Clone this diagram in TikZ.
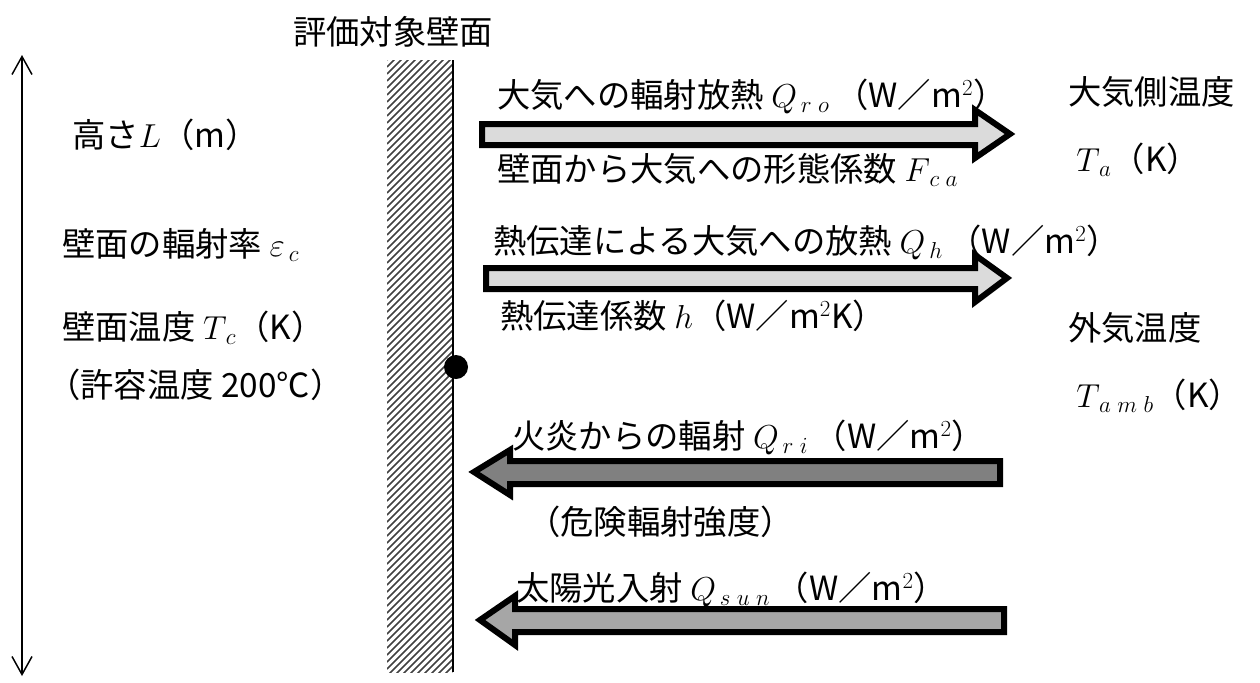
\documentclass[tikz,border=0pt]{standalone}
\usepackage{fontspec}
\setmainfont{Noto Sans CJK JP}
\usetikzlibrary{arrows.meta}

\begin{document}
\begin{tikzpicture}[x=0.75pt,y=-0.75pt,>={Straight Barb[length=13.5pt,width=15pt]},
  lbl/.style={anchor=west,inner sep=0pt,font=\fontsize{25}{30}\selectfont},
  blockarrow/.style={draw=black,line width=4.5pt,line join=miter,miter limit=10},
  hatch/.style={line width=1.1pt,black!75}]
\useasboundingbox (0,0) rectangle (1260,682);
% wall with hatching
\begin{scope}
\clip (387,60) rectangle (453,672);
\foreach \k in {0,7,...,742} \draw[hatch] (387,60+\k) -- ++(66,-66);
\end{scope}
\coordinate (wtop) at (453,60); \coordinate (wbot) at (453,672);
\draw[line width=2.2pt] (wtop) -- (wbot);
\node[circle,fill=black,inner sep=0pt,minimum size=18pt] (pt) at (456,367) {};
\node[lbl,anchor=center] (title) at (393,32) {評価対象壁面};
% height of the wall
\coordinate (htop) at (22,55); \coordinate (hbot) at (22,676);
\draw[<->,line width=1.1pt] (htop) -- (hbot);
\node[lbl] (hL) at (72,135) {高さ$L$（m）};
\node[lbl] (eps) at (62,245) {壁面の輻射率 $\varepsilon_{\,c}$};
\node[lbl] (Tc) at (62,328) {壁面温度 $T_{\,c}$（K）};
\node[lbl] (allow) at (47,385) {（許容温度 200℃）};
% outgoing heat
\draw[blockarrow,fill=black!14] (482,124) -- (975,124) -- (975,110) -- (1010,134) -- (975,158) -- (975,145) -- (482,145) -- cycle;
\node[lbl] (Qro) at (497,96) {大気への輻射放熱 $Q_{\,r\;o}$\,（W／m$^{2}$）};
\node[lbl] (Fca) at (497,170) {壁面から大気への形態係数 $F_{\,c\;a}$};
\draw[blockarrow,fill=black!14] (486,268) -- (975,268) -- (975,255) -- (1007,278) -- (975,302) -- (975,289) -- (486,289) -- cycle;
\node[lbl] (Qh) at (493,242) {熱伝達による大気への放熱 $Q_{\,h}$\,（W／m$^{2}$）};
\node[lbl] (hc) at (500,316) {熱伝達係数 $h$（W／m$^{2}$K）};
% ambient side
\node[lbl] (Ta0) at (1068,92) {大気側温度};
\node[lbl] (Ta) at (1076,160) {$T_{\,a}$（K）};
\node[lbl] (Tamb0) at (1068,328) {外気温度};
\node[lbl] (Tamb) at (1076,396) {$T_{\,a\;m\;b}$（K）};
% incoming heat
\draw[blockarrow,fill=black!50] (1000,461) -- (510,461) -- (510,450) -- (474,472) -- (510,495) -- (510,484) -- (1000,484) -- cycle;
\node[lbl] (Qri) at (512,437) {火炎からの輻射 $Q_{\,r\;i}$\,（W／m$^{2}$）};
\node[lbl] (crit) at (527,522) {（危険輻射強度）};
\draw[blockarrow,fill=black!35] (1004,609) -- (515,609) -- (515,596) -- (480,620) -- (515,645) -- (515,632) -- (1004,632) -- cycle;
\node[lbl] (Qsun) at (516,589) {太陽光入射 $Q_{\,s\;u\;n}$\,（W／m$^{2}$）};
\end{tikzpicture}
\end{document}
